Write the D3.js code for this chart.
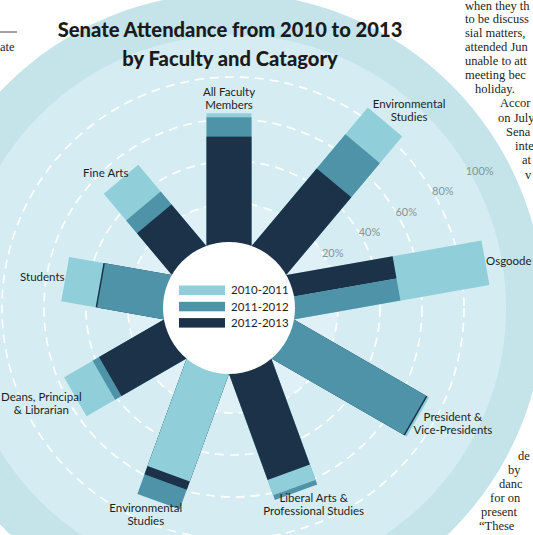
<!DOCTYPE html>
<html><head><meta charset="utf-8">
<script src="https://cdn.jsdelivr.net/npm/d3@7"></script>
<style>html,body{margin:0;padding:0;background:#fff;overflow:hidden}svg{display:block}</style>
</head><body><svg id="c" width="533" height="535"></svg>
<script>
// ---- data ----
const categories = ["All Faculty\nMembers", "Environmental\nStudies", "Osgoode",
  "President &\nVice-Presidents", "Liberal Arts &\nProfessional Studies",
  "Environmental\nStudies", "Deans, Principal\n& Librarian", "Students", "Fine Arts"];
const years = ["2010-2011", "2011-2012", "2012-2013"];
const att2010 = [62.7, 85.6, 94.0, 73.9, 61.0, 54.0, 54.5, 49.2, 50.0];
const att2011 = [60.8, 69.0, 51.0, 72.2, 63.4, 68.1, 38.8, 31.9, 33.4];
const att2012 = [51.6, 47.8, 51.0, 72.9, 53.2, 58.2, 35.3, 32.6, 25.4];
const ticks = [20, 40, 60, 80, 100];
const tickLabels = ["20%", "40%", "60%", "80%", "100%"];
const titleLines = ["Senate Attendance from 2010 to 2013", "by Faculty and Catagory"];
const articleRight = [
  ["when they th", 465, 10], ["to be discuss", 465, 23], ["sial matters,", 465, 37],
  ["attended Jun", 465, 51], ["unable to att", 465, 65], ["meeting bec", 465, 79],
  ["holiday.", 475, 93], ["Accor", 500, 107], ["on July", 498, 122], ["Sena", 506, 136],
  ["inte", 515, 150], ["at", 522, 164], ["v", 525, 179],
  ["de", 518, 460], ["by", 508, 474], ["danc", 499, 488], ["for on", 490, 502],
  ["present", 481, 516], ["\u201cThese", 479, 530]
];

const series = [att2010, att2011, att2012];
const svg = d3.select("#c");
const cx = 229, cy = 308;      // bar centre
const gx = 233, gy = 308;      // grid centre
const r = d3.scaleLinear().domain([0, 100]).range([63, 273]);
const ang = d3.scaleBand().domain(d3.range(categories.length)).range([0, 360]);
const color = d3.scaleOrdinal().domain(years).range(["#90cfd9", "#4f93a8", "#1c3249"]);
const rad = d => d * Math.PI / 180;

// ---- background ----
svg.append("circle").attr("cx", cx).attr("cy", cy).attr("r", 315).attr("fill", "#c5e4ea");
svg.append("circle").attr("cx", gx).attr("cy", gy).attr("r", r(100)).attr("fill", "#d5edf2");
svg.append("circle").attr("cx", gx).attr("cy", gy).attr("r", r(20)).attr("fill", "#dff1f6");
svg.append("g").selectAll("circle").data(ticks.filter(t => t < 100)).join("circle")
  .attr("cx", gx).attr("cy", gy).attr("r", d => r(d))
  .attr("fill", "none").attr("stroke", "#fff").attr("stroke-width", 1.6)
  .attr("stroke-dasharray", "9 6");

// tick labels
svg.append("g").selectAll("text").data(ticks).join("text")
  .attr("x", d => gx + (r(d) + 9) * Math.sin(rad(61)))
  .attr("y", d => gy - (r(d) + 9) * Math.cos(rad(61)))
  .attr("dy", "0.35em").attr("text-anchor", "middle")
  .attr("font-family", "Lato, sans-serif").attr("font-size", 11).attr("fill", "#86959a")
  .text((d, i) => tickLabels[i]);

// ---- bars ----
const barW = 45;
const gBars = svg.append("g");
categories.forEach((c, i) => {
  const g = gBars.append("g").attr("transform", `translate(${cx},${cy}) rotate(${ang(i)})`);
  const segs = years.map((y, k) => ({ year: y, k, v: series[k][i] }));
  const groups = d3.groups(segs, d => d.v).sort((a, b) => b[0] - a[0]);
  groups.forEach(([v, items]) => {
    items.sort((a, b) => b.k - a.k);
    const sub = d3.scaleBand().domain(items.map(d => d.k)).range([-barW / 2, barW / 2]);
    items.forEach(d => {
      g.append("rect").attr("x", sub(d.k)).attr("width", sub.bandwidth())
        .attr("y", -r(v)).attr("height", r(v)).attr("fill", color(d.year));
    });
  });
});

// centre disc + legend
svg.append("circle").attr("cx", cx).attr("cy", cy).attr("r", 66).attr("fill", "#fff");
const lg = svg.append("g").attr("transform", `translate(${cx},${cy})`);
years.forEach((y, k) => {
  lg.append("rect").attr("x", -50).attr("y", -22.5 + k * 16.3).attr("width", 46).attr("height", 9.5)
    .attr("fill", color(y));
  lg.append("text").attr("x", 2).attr("y", -13.6 + k * 16.3)
    .attr("font-family", "Lato, sans-serif").attr("font-size", 11.5).attr("fill", "#1e1e1e").text(y);
});

// ---- category labels ----
const lh = 13;
categories.forEach((c, i) => {
  const lines = c.split("\n");
  const a = rad(ang(i));
  const maxV = d3.max(series, s => s[i]);
  const rr = r(maxV) + 1;
  const px = cx + rr * Math.sin(a), py = cy - rr * Math.cos(a);
  const t = svg.append("text").attr("font-family", "Lato, sans-serif").attr("font-size", 11.5)
    .attr("fill", "#1e1e1e").attr("text-anchor", "middle");
  lines.forEach((l, k) => t.append("tspan").text(l));
  let w = 0;
  t.selectAll("tspan").each(function () { w = Math.max(w, this.getComputedTextLength()); });
  const h = lh * lines.length;
  let ccx = px + Math.sin(a) * w / 2;
  const ccy = py - Math.cos(a) * h / 2;
  ccx = Math.max(ccx, w / 2 + 1);
  t.selectAll("tspan").attr("x", ccx).attr("y", (d, k) => ccy - h / 2 + 10 + k * lh);
});

// ---- title ----
let titleFs = 20;
titleLines.forEach((l, k) => {
  const t = svg.append("text").attr("x", 230).attr("y", 37 + k * 29)
    .attr("text-anchor", "middle").attr("font-family", "Lato, sans-serif")
    .attr("font-weight", 900).attr("font-size", titleFs).attr("fill", "#1b1b1b").text(l);
  if (k === 0) {
    const len = t.node().getComputedTextLength();
    titleFs = 20 * 345 / len;
  }
  t.attr("font-size", titleFs);
});

// ---- surrounding article text ----
const art = svg.append("g").attr("font-family", "'Liberation Serif', serif").attr("font-size", 12.5).attr("fill", "#231f20");
art.selectAll("text").data(articleRight).join("text")
  .attr("x", d => d[1]).attr("y", d => d[2]).text(d => d[0]);
art.append("text").attr("x", 0).attr("y", 51).text("ate");
svg.append("line").attr("x1", 0).attr("x2", 17).attr("y1", 32).attr("y2", 32)
  .attr("stroke", "#444").attr("stroke-width", 1);
</script></body></html>
